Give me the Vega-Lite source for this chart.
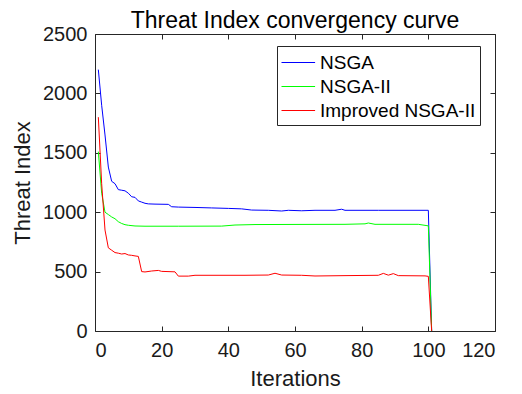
{
  "$schema": "https://vega.github.io/schema/vega-lite/v6.json",
  "width": 400,
  "height": 297,
  "autosize": {"type": "none"},
  "padding": {"left": 95, "top": 34, "right": 27, "bottom": 63},
  "background": "white",
  "title": {
    "text": "Threat Index convergency curve",
    "font": "Liberation Sans",
    "fontSize": 23,
    "fontWeight": "normal",
    "color": "#000000",
    "anchor": "middle",
    "offset": -9
  },
  "config": {
    "view": {"stroke": null},
    "font": "Liberation Sans",
    "axis": {
      "grid": false,
      "domainColor": "#262626",
      "tickColor": "#262626",
      "labelColor": "#1a1a1a",
      "titleColor": "#1a1a1a",
      "labelFont": "Liberation Sans",
      "titleFont": "Liberation Sans",
      "labelFontSize": 20,
      "titleFontSize": 22,
      "titleFontWeight": "normal",
      "tickSize": -5,
      "domainWidth": 1,
      "tickWidth": 1,
      "format": "d"
    }
  },
  "data": {
    "values": [
      {"Iteration": 1, "Algorithm": "NSGA", "Threat": 2200},
      {"Iteration": 2, "Algorithm": "NSGA", "Threat": 1900},
      {"Iteration": 3, "Algorithm": "NSGA", "Threat": 1650},
      {"Iteration": 4, "Algorithm": "NSGA", "Threat": 1380},
      {"Iteration": 5, "Algorithm": "NSGA", "Threat": 1260},
      {"Iteration": 6, "Algorithm": "NSGA", "Threat": 1240},
      {"Iteration": 7, "Algorithm": "NSGA", "Threat": 1190},
      {"Iteration": 8, "Algorithm": "NSGA", "Threat": 1185},
      {"Iteration": 9, "Algorithm": "NSGA", "Threat": 1180},
      {"Iteration": 10, "Algorithm": "NSGA", "Threat": 1160},
      {"Iteration": 11, "Algorithm": "NSGA", "Threat": 1130},
      {"Iteration": 12, "Algorithm": "NSGA", "Threat": 1125},
      {"Iteration": 13, "Algorithm": "NSGA", "Threat": 1095},
      {"Iteration": 14, "Algorithm": "NSGA", "Threat": 1085},
      {"Iteration": 15, "Algorithm": "NSGA", "Threat": 1075},
      {"Iteration": 16, "Algorithm": "NSGA", "Threat": 1070},
      {"Iteration": 18, "Algorithm": "NSGA", "Threat": 1068},
      {"Iteration": 22, "Algorithm": "NSGA", "Threat": 1066},
      {"Iteration": 23, "Algorithm": "NSGA", "Threat": 1046},
      {"Iteration": 25, "Algorithm": "NSGA", "Threat": 1043},
      {"Iteration": 30, "Algorithm": "NSGA", "Threat": 1040},
      {"Iteration": 35, "Algorithm": "NSGA", "Threat": 1036},
      {"Iteration": 40, "Algorithm": "NSGA", "Threat": 1032},
      {"Iteration": 44, "Algorithm": "NSGA", "Threat": 1028},
      {"Iteration": 47, "Algorithm": "NSGA", "Threat": 1018},
      {"Iteration": 52, "Algorithm": "NSGA", "Threat": 1016},
      {"Iteration": 56, "Algorithm": "NSGA", "Threat": 1010},
      {"Iteration": 58, "Algorithm": "NSGA", "Threat": 1016},
      {"Iteration": 62, "Algorithm": "NSGA", "Threat": 1012},
      {"Iteration": 66, "Algorithm": "NSGA", "Threat": 1016},
      {"Iteration": 72, "Algorithm": "NSGA", "Threat": 1016},
      {"Iteration": 74, "Algorithm": "NSGA", "Threat": 1025},
      {"Iteration": 75, "Algorithm": "NSGA", "Threat": 1016},
      {"Iteration": 85, "Algorithm": "NSGA", "Threat": 1016},
      {"Iteration": 100, "Algorithm": "NSGA", "Threat": 1016},
      {"Iteration": 101, "Algorithm": "NSGA", "Threat": 0},

      {"Iteration": 1, "Algorithm": "NSGA-II", "Threat": 1510},
      {"Iteration": 2, "Algorithm": "NSGA-II", "Threat": 1160},
      {"Iteration": 3, "Algorithm": "NSGA-II", "Threat": 1000},
      {"Iteration": 4, "Algorithm": "NSGA-II", "Threat": 980},
      {"Iteration": 5, "Algorithm": "NSGA-II", "Threat": 960},
      {"Iteration": 6, "Algorithm": "NSGA-II", "Threat": 945},
      {"Iteration": 7, "Algorithm": "NSGA-II", "Threat": 920},
      {"Iteration": 8, "Algorithm": "NSGA-II", "Threat": 905},
      {"Iteration": 9, "Algorithm": "NSGA-II", "Threat": 895},
      {"Iteration": 10, "Algorithm": "NSGA-II", "Threat": 890},
      {"Iteration": 12, "Algorithm": "NSGA-II", "Threat": 884},
      {"Iteration": 15, "Algorithm": "NSGA-II", "Threat": 882},
      {"Iteration": 25, "Algorithm": "NSGA-II", "Threat": 882},
      {"Iteration": 38, "Algorithm": "NSGA-II", "Threat": 883},
      {"Iteration": 42, "Algorithm": "NSGA-II", "Threat": 892},
      {"Iteration": 48, "Algorithm": "NSGA-II", "Threat": 896},
      {"Iteration": 60, "Algorithm": "NSGA-II", "Threat": 897},
      {"Iteration": 75, "Algorithm": "NSGA-II", "Threat": 898},
      {"Iteration": 81, "Algorithm": "NSGA-II", "Threat": 902},
      {"Iteration": 82, "Algorithm": "NSGA-II", "Threat": 909},
      {"Iteration": 84, "Algorithm": "NSGA-II", "Threat": 898},
      {"Iteration": 97, "Algorithm": "NSGA-II", "Threat": 898},
      {"Iteration": 100, "Algorithm": "NSGA-II", "Threat": 885},
      {"Iteration": 101, "Algorithm": "NSGA-II", "Threat": 0},

      {"Iteration": 1, "Algorithm": "Improved NSGA-II", "Threat": 1800},
      {"Iteration": 2, "Algorithm": "Improved NSGA-II", "Threat": 1240},
      {"Iteration": 3, "Algorithm": "Improved NSGA-II", "Threat": 850},
      {"Iteration": 4, "Algorithm": "Improved NSGA-II", "Threat": 700},
      {"Iteration": 5, "Algorithm": "Improved NSGA-II", "Threat": 680},
      {"Iteration": 6, "Algorithm": "Improved NSGA-II", "Threat": 660},
      {"Iteration": 7, "Algorithm": "Improved NSGA-II", "Threat": 655},
      {"Iteration": 8, "Algorithm": "Improved NSGA-II", "Threat": 648},
      {"Iteration": 9, "Algorithm": "Improved NSGA-II", "Threat": 652},
      {"Iteration": 10, "Algorithm": "Improved NSGA-II", "Threat": 640},
      {"Iteration": 11, "Algorithm": "Improved NSGA-II", "Threat": 637},
      {"Iteration": 12, "Algorithm": "Improved NSGA-II", "Threat": 632},
      {"Iteration": 13, "Algorithm": "Improved NSGA-II", "Threat": 628},
      {"Iteration": 14, "Algorithm": "Improved NSGA-II", "Threat": 500},
      {"Iteration": 15, "Algorithm": "Improved NSGA-II", "Threat": 497},
      {"Iteration": 17, "Algorithm": "Improved NSGA-II", "Threat": 505},
      {"Iteration": 19, "Algorithm": "Improved NSGA-II", "Threat": 510},
      {"Iteration": 20, "Algorithm": "Improved NSGA-II", "Threat": 502},
      {"Iteration": 24, "Algorithm": "Improved NSGA-II", "Threat": 498},
      {"Iteration": 25, "Algorithm": "Improved NSGA-II", "Threat": 462},
      {"Iteration": 28, "Algorithm": "Improved NSGA-II", "Threat": 462},
      {"Iteration": 30, "Algorithm": "Improved NSGA-II", "Threat": 469},
      {"Iteration": 45, "Algorithm": "Improved NSGA-II", "Threat": 469},
      {"Iteration": 52, "Algorithm": "Improved NSGA-II", "Threat": 471},
      {"Iteration": 54, "Algorithm": "Improved NSGA-II", "Threat": 486},
      {"Iteration": 56, "Algorithm": "Improved NSGA-II", "Threat": 471},
      {"Iteration": 62, "Algorithm": "Improved NSGA-II", "Threat": 469},
      {"Iteration": 66, "Algorithm": "Improved NSGA-II", "Threat": 463},
      {"Iteration": 75, "Algorithm": "Improved NSGA-II", "Threat": 466},
      {"Iteration": 85, "Algorithm": "Improved NSGA-II", "Threat": 469},
      {"Iteration": 86.5, "Algorithm": "Improved NSGA-II", "Threat": 485},
      {"Iteration": 88, "Algorithm": "Improved NSGA-II", "Threat": 470},
      {"Iteration": 89.5, "Algorithm": "Improved NSGA-II", "Threat": 483},
      {"Iteration": 91, "Algorithm": "Improved NSGA-II", "Threat": 466},
      {"Iteration": 99, "Algorithm": "Improved NSGA-II", "Threat": 464},
      {"Iteration": 100, "Algorithm": "Improved NSGA-II", "Threat": 460},
      {"Iteration": 101, "Algorithm": "Improved NSGA-II", "Threat": 0}
    ]
  },
  "layer": [
    {
      "mark": {"type": "line", "strokeWidth": 1, "interpolate": "linear"},
      "encoding": {
        "x": {
          "field": "Iteration",
          "type": "quantitative",
          "scale": {"domain": [0, 120], "nice": false},
          "axis": {"values": [0, 20, 40, 60, 80, 100, 120], "title": "Iterations", "labelPadding": 14, "titlePadding": 8}
        },
        "y": {
          "field": "Threat",
          "type": "quantitative",
          "scale": {"domain": [0, 2500], "nice": false},
          "axis": {"values": [0, 500, 1000, 1500, 2000, 2500], "title": "Threat Index", "labelPadding": 13, "titlePadding": 8}
        },
        "color": {
          "field": "Algorithm",
          "type": "nominal",
          "scale": {
            "domain": ["NSGA", "NSGA-II", "Improved NSGA-II"],
            "range": ["#0000ff", "#00ff00", "#ff0000"]
          },
          "legend": {
            "title": null,
            "orient": "none",
            "legendX": 182,
            "legendY": 12,
            "symbolType": "M-1,0L1.8,0",
            "symbolSize": 576,
            "symbolStrokeWidth": 1,
            "labelFont": "Liberation Sans",
            "labelFontSize": 19,
            "labelColor": "#000000",
            "labelOffset": 14,
            "rowPadding": 1,
            "padding": 4,
            "strokeColor": "#262626",
            "fillColor": "#ffffff"
          }
        },
        "order": {"field": "Iteration", "type": "quantitative"}
      }
    },
    {
      "mark": {"type": "line", "opacity": 0},
      "encoding": {
        "x": {
          "field": "Iteration",
          "type": "quantitative",
          "axis": {"orient": "top", "values": [0, 20, 40, 60, 80, 100, 120], "labels": false, "title": null, "minExtent": 0, "maxExtent": 0}
        },
        "y": {
          "field": "Threat",
          "type": "quantitative",
          "axis": {"orient": "right", "values": [0, 500, 1000, 1500, 2000, 2500], "labels": false, "title": null, "minExtent": 0, "maxExtent": 0}
        },
        "detail": {"field": "Algorithm"}
      }
    }
  ],
  "resolve": {"axis": {"x": "independent", "y": "independent"}}
}
